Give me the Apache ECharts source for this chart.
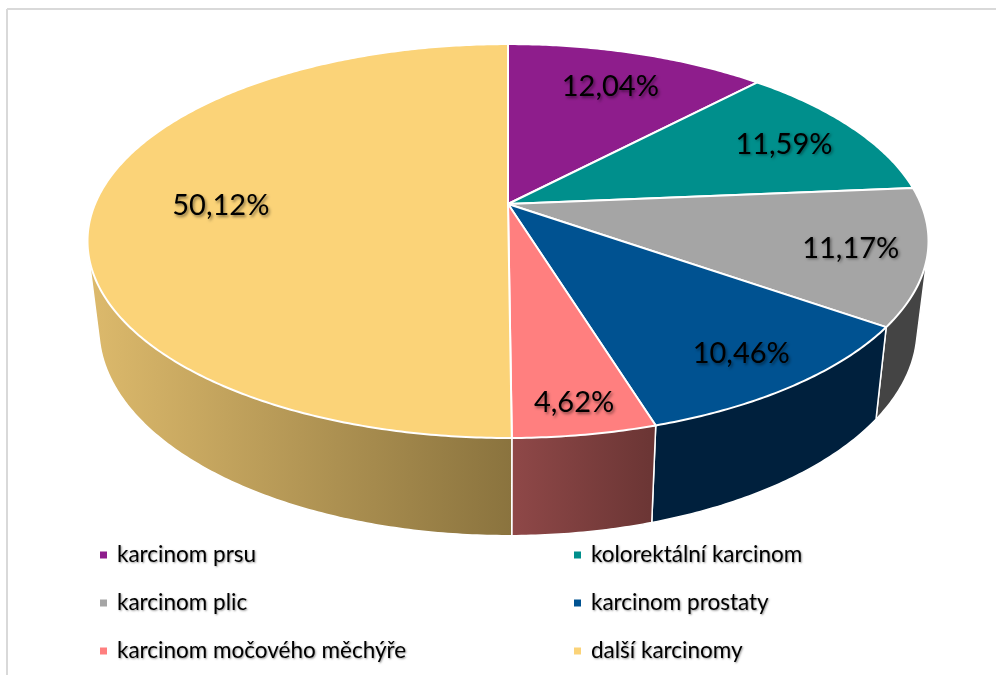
<!DOCTYPE html>
<html>
<head>
<meta charset="utf-8">
<style>html,body{margin:0;padding:0;background:#fff}#c{width:996px;height:675px}</style>
<script src="https://cdn.jsdelivr.net/npm/echarts@6/dist/echarts.min.js"></script>
</head>
<body>
<div id="c"></div>
<script>
var categories = ['karcinom prsu','kolorektální karcinom','karcinom plic','karcinom prostaty','karcinom močového měchýře','další karcinomy'];
var shares = [12.04,11.59,11.17,10.46,4.62,50.12];
var topColors = ['#8E1D8C','#008F8C','#A5A5A5','#005291','#FF7F7F','#FBD378'];
var wallColors = [['#5a125a','#5a125a'],['#005a58','#005a58'],['#444444','#444444'],['#00203D','#00203D'],['#8F4848','#6A3534'],['#DDBA6C','#8A733E']];
var labelRadius = [0.76,0.79,0.825,0.84,0.88,0.695];
var legendLeft = [categories[0],categories[2],categories[4]];
var legendRight = [categories[1],categories[3],categories[5]];

// perspective view of the disc
var view = {cx:508, cy:204, sx:413, syTop:190, tilt:-0.188, wallScaleX:0.973, wallScaleY:1.05, wallY:290, labelDy:1.5};
function project(theta, r){
  var X = Math.sin(theta)*r, Y = -Math.cos(theta)*r, d = 1 + view.tilt*Y;
  return [view.cx + view.sx*X/d, view.cy + view.syTop*Y/d];
}
function lower(p){
  return [view.cx + view.wallScaleX*(p[0]-view.cx), view.wallY + view.wallScaleY*(p[1]-view.cy)];
}
function hull(pts){
  var s = pts.slice().sort(function(a,b){return a[0]-b[0]||a[1]-b[1];});
  function cross(o,a,b){return (a[0]-o[0])*(b[1]-o[1])-(a[1]-o[1])*(b[0]-o[0]);}
  function half(list){
    var h = [];
    list.forEach(function(p){
      while (h.length>1 && cross(h[h.length-2],h[h.length-1],p)<=0) h.pop();
      h.push(p);
    });
    h.pop();
    return h;
  }
  return half(s).concat(half(s.slice().reverse()));
}
var total = shares.reduce(function(a,b){return a+b;},0);
function startOf(i){
  var s = 0; for (var k=0;k<i;k++) s += shares[k];
  return s/total*Math.PI*2;
}
function makeRender(i){
  return function(params, api){
    var v = api.value(0);
    var a0 = startOf(i), a1 = a0 + v/total*Math.PI*2;
    var arc = [], n = Math.max(6, Math.ceil((a1-a0)/0.01));
    for (var k=0;k<=n;k++) arc.push(project(a0+(a1-a0)*k/n, 1));
    var bottom = arc.map(lower);
    var mid = (a0+a1)/2, lp = project(mid, labelRadius[i]);
    return {type:'group', children:[
      {type:'polygon', z2:1+i, shape:{points:hull(arc.concat(bottom))},
       style:{fill:new echarts.graphic.LinearGradient(0,0,1,0,[{offset:0,color:wallColors[i][0]},{offset:1,color:wallColors[i][1]}]),
              stroke:'#fff', lineWidth:1.5, lineJoin:'round'}},
      {type:'polygon', z2:20, shape:{points:[[view.cx,view.cy]].concat(arc)},
       style:{fill:topColors[i], stroke:'#fff', lineWidth:2, lineJoin:'round'}},
      {type:'text', z2:40, style:{x:lp[0], y:lp[1]+view.labelDy, text:v.toFixed(2).replace('.',',')+'%',
        align:'center', verticalAlign:'middle', fill:'#000', fontFamily:'Lato', fontSize:29,
        textShadowColor:'rgba(0,0,0,0.45)', textShadowBlur:3, textShadowOffsetX:1.5, textShadowOffsetY:1.5}}
    ]};
  };
}
var series = categories.map(function(name,i){
  return {type:'custom', name:name, coordinateSystem:'none', silent:true, animation:false,
    itemStyle:{color:topColors[i]}, data:[[shares[i]]], renderItem:makeRender(i)};
});
var legendText = {fontFamily:'Lato', fontSize:22.5, color:'#000', lineHeight:26, padding:[0,0,0,5],
  textShadowColor:'rgba(0,0,0,0.4)', textShadowBlur:2, textShadowOffsetX:1, textShadowOffsetY:1};
function legend(left, data){
  return {orient:'vertical', left:left, top:542, itemWidth:7, itemHeight:7, itemGap:22, icon:'rect',
    selectedMode:false, padding:0, data:data, textStyle:legendText};
}
var chart = echarts.init(document.getElementById('c'), null, {renderer:'canvas'});
chart.setOption({
  backgroundColor:'#fff', animation:false, tooltip:{show:false},
  legend:[legend(100,legendLeft), legend(574,legendRight)],
  graphic:[
    {type:'line', silent:true, shape:{x1:7,y1:9,x2:996,y2:9}, style:{stroke:'#d9d9d9',lineWidth:2}},
    {type:'line', silent:true, shape:{x1:7,y1:9,x2:7,y2:675}, style:{stroke:'#d9d9d9',lineWidth:2}}
  ],
  series:series
});
</script>
</body>
</html>
